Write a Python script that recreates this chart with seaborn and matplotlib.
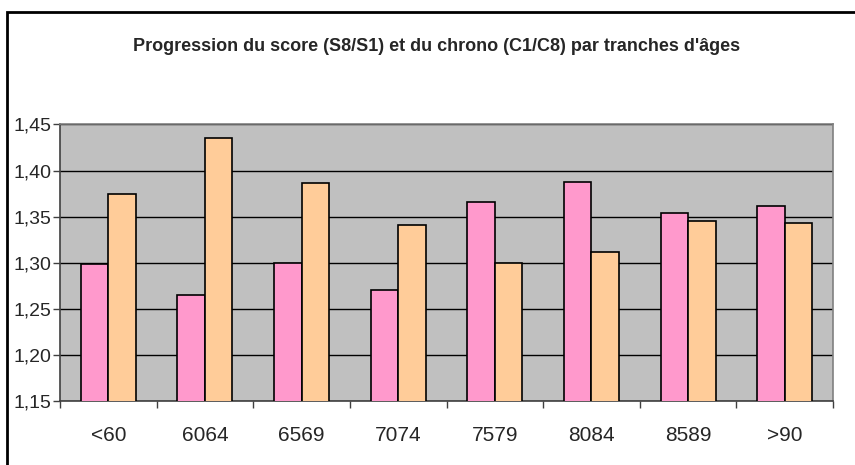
import pandas as pd
import seaborn as sns
import matplotlib.pyplot as plt
from matplotlib.patches import Rectangle
from matplotlib.ticker import FuncFormatter, MultipleLocator

tranches = ['<60', '6064', '6569', '7074', '7579', '8084', '8589', '>90']
score = [1.298, 1.265, 1.300, 1.270, 1.366, 1.388, 1.354, 1.361]
chrono = [1.375, 1.435, 1.386, 1.341, 1.300, 1.311, 1.345, 1.343]

df = pd.DataFrame({'Tranche': tranches * 2,
                   'Valeur': score + chrono,
                   'Serie': ['score'] * len(tranches) + ['chrono'] * len(tranches)})

sns.set_style('white')
plt.rcParams['font.family'] = ['Liberation Sans', 'DejaVu Sans']

fig = plt.figure(figsize=(8.55, 4.65), dpi=100)
ax = fig.add_axes([0.0702, 0.1383, 0.9041, 0.594])

sns.barplot(data=df, x='Tranche', y='Valeur', hue='Serie', order=tranches,
            palette=['#FF99CC', '#FFCC99'], saturation=1, width=0.57,
            edgecolor='black', linewidth=1.2, legend=False, ax=ax, zorder=3)

ax.set_facecolor('#C0C0C0')
ax.set_ylim(1.15, 1.45)
ax.set_xlim(-0.5, len(tranches) - 0.5)
ax.yaxis.set_major_locator(MultipleLocator(0.05))
ax.yaxis.set_major_formatter(FuncFormatter(lambda v, p: '{:.2f}'.format(v).replace('.', ',')))
ax.grid(axis='y', color='black', linewidth=1, zorder=0)
ax.set_axisbelow(True)
ax.set_xlabel('')
ax.set_ylabel('')

# ticks between groups, labels centred on groups
ax.set_xticks([i - 0.5 for i in range(len(tranches) + 1)], minor=False)
ax.set_xticklabels([])
ax.set_xticks(range(len(tranches)), minor=True)
ax.set_xticklabels(tranches, minor=True, fontsize=15)
ax.tick_params(axis='x', which='minor', length=0, pad=18)
ax.tick_params(axis='x', which='major', length=5, width=1, color='#404040', direction='out')
ax.tick_params(axis='y', length=5, width=1, color='#404040', direction='out', labelsize=14, pad=1)
ax.tick_params(bottom=True, left=True, which='major')

for side in ['top', 'right']:
    ax.spines[side].set_color('#808080')
for side in ['left', 'bottom']:
    ax.spines[side].set_color('#404040')
for s in ax.spines.values():
    s.set_linewidth(1.2)

fig.text(0.511, 0.899, 'Progression du score (S8/S1) et du chrono (C1/C8) par tranches d\'âges',
         ha='center', va='center', fontsize=13, fontweight='bold')

# outer chart border (cut off at right and bottom)
fig.patches.append(Rectangle((7 / 855, -0.1), 1.2, 0.1 + (465 - 12) / 465,
                             transform=fig.transFigure, fill=False,
                             edgecolor='black', linewidth=2))

fig.savefig('out.png', dpi=100)
